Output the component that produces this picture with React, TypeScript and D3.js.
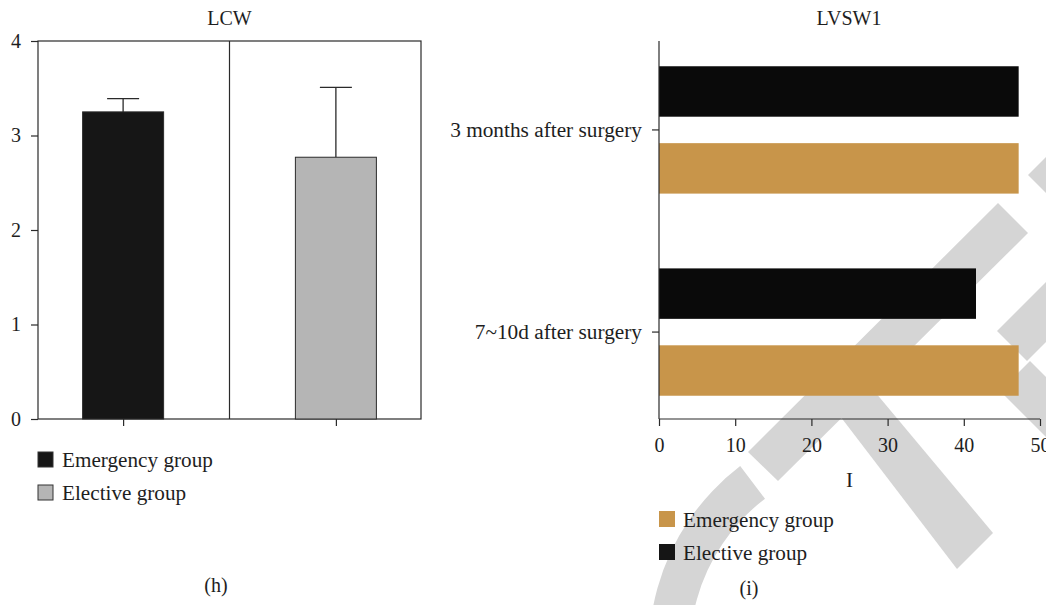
import { useRef, useEffect } from "react";
import * as d3 from "d3";

// LCW panel (h)
const lcwGroups = ["Emergency group", "Elective group"];
const lcwMeans = [3.25, 2.77];
const lcwErrors = [0.14, 0.74];
const lcwColors = ["#161616", "#b5b5b5"];
const lcwTicks = [0, 1, 2, 3, 4];

// LVSW1 panel (i)
const lvswCategories = ["3 months after surgery", "7~10d after surgery"];
const lvswSeries = ["Elective group", "Emergency group"];
const lvswElective = [47.2, 41.6];
const lvswEmergency = [47.2, 47.2];
const lvswColors = ["#0a0a0a", "#c8954a"];
const lvswTicks = [0, 10, 20, 30, 40, 50];
const lvswLegend = ["Emergency group", "Elective group"];
const lvswLegendColors = ["#c8954a", "#151515"];

const W = 1046;
const H = 605;
const FONT = "'Liberation Serif', 'Times New Roman', serif";
const INK = "#1e1e1e";
const LINE = "#2a2a2a";

export default function App() {
  const svgRef = useRef<SVGSVGElement>(null);

  useEffect(() => {
    if (!svgRef.current) return;
    const svg = d3.select(svgRef.current);
    svg.selectAll("*").remove();

    // faint publisher watermark behind everything
    const wm = svg.append("g").attr("fill", "#d5d5d5");
    wm.append("path")
      .attr("transform", "translate(880,650)")
      .attr("d", d3.arc()({ innerRadius: 190, outerRadius: 231, startAngle: -1.95, endAngle: -0.65 } as any));
    const polys = [
      [[998, 203], [1028, 233], [778, 481], [748, 452]],
      [[870, 386], [840, 416], [957, 569], [993, 533]],
      [[997, 331], [1027, 361], [1046, 342], [1046, 282]],
      [[1000, 391], [1030, 361], [1046, 377], [1046, 437]],
      [[1028, 175], [1046, 157], [1046, 193]],
    ];
    polys.forEach(p => wm.append("polygon").attr("points", p.map(q => q.join(",")).join(" ")));

    // ---------- LCW ----------
    const L = { left: 38, right: 421, top: 41, bottom: 419 };
    const xL = d3.scalePoint<string>().domain(lcwGroups).range([L.left, L.right]).padding(0.4);
    const yL = d3.scaleLinear().domain([0, 4]).range([L.bottom, L.top]);
    const barW = 81;
    const gL = svg.append("g");

    gL.append("text")
      .attr("x", (L.left + L.right) / 2).attr("y", 25)
      .attr("text-anchor", "middle").attr("font-size", 20).attr("fill", INK)
      .text("LCW");

    // frame + divider
    gL.append("rect")
      .attr("x", L.left).attr("y", L.top)
      .attr("width", L.right - L.left).attr("height", L.bottom - L.top)
      .attr("fill", "none").attr("stroke", LINE).attr("stroke-width", 1.2);
    const mid = (xL(lcwGroups[0])! + xL(lcwGroups[1])!) / 2;
    gL.append("line")
      .attr("x1", mid).attr("x2", mid).attr("y1", L.top).attr("y2", L.bottom)
      .attr("stroke", LINE).attr("stroke-width", 1.2);

    const axL = gL.append("g")
      .attr("transform", `translate(${L.left},0)`)
      .call(d3.axisLeft(yL).tickValues(lcwTicks).tickSize(7).tickPadding(10).tickFormat(d3.format("d")));
    axL.select(".domain").remove();
    axL.selectAll("line").attr("stroke", LINE).attr("stroke-width", 1.2);
    axL.selectAll("text").attr("font-family", FONT).attr("font-size", 20).attr("fill", INK);

    const axB = gL.append("g")
      .attr("transform", `translate(0,${L.bottom})`)
      .call(d3.axisBottom(xL).tickSize(7).tickFormat(() => ""));
    axB.select(".domain").remove();
    axB.selectAll("line").attr("stroke", LINE).attr("stroke-width", 1.2);

    lcwGroups.forEach((g, i) => {
      const cx = xL(g)!;
      const top = yL(lcwMeans[i]);
      const errTop = yL(lcwMeans[i] + lcwErrors[i]);
      gL.append("line")
        .attr("x1", cx).attr("x2", cx).attr("y1", top).attr("y2", errTop)
        .attr("stroke", LINE).attr("stroke-width", 1.3);
      gL.append("line")
        .attr("x1", cx - 16).attr("x2", cx + 16).attr("y1", errTop).attr("y2", errTop)
        .attr("stroke", LINE).attr("stroke-width", 1.3);
      gL.append("rect")
        .attr("x", cx - barW / 2).attr("y", top)
        .attr("width", barW).attr("height", L.bottom - top)
        .attr("fill", lcwColors[i]).attr("stroke", "#2b2b2b").attr("stroke-width", 1);
    });

    // legend (h)
    lcwGroups.forEach((g, i) => {
      const y = 467 + i * 33;
      gL.append("rect")
        .attr("x", 38).attr("y", y - 15).attr("width", 15).attr("height", 15)
        .attr("fill", lcwColors[i]).attr("stroke", "#333").attr("stroke-width", 1);
      gL.append("text")
        .attr("x", 62).attr("y", y)
        .attr("font-size", 21.2).attr("fill", INK)
        .text(g);
    });
    gL.append("text")
      .attr("x", 216).attr("y", 592).attr("text-anchor", "middle")
      .attr("font-size", 20).attr("fill", INK).text("(h)");

    // ---------- LVSW1 ----------
    const R = { left: 659, right: 1040, top: 41, bottom: 419 };
    const xR = d3.scaleLinear().domain([0, 50]).range([R.left, R.right]);
    const yR = d3.scaleBand<string>().domain(lvswCategories).range([42, 420])
      .paddingInner(0.37).paddingOuter(0.12);
    const ySub = d3.scaleBand<string>().domain(lvswSeries).range([0, yR.bandwidth()])
      .paddingInner(0.344);
    const gR = svg.append("g");

    gR.append("text")
      .attr("x", 849).attr("y", 25)
      .attr("text-anchor", "middle").attr("font-size", 20).attr("fill", INK)
      .text("LVSW1");

    const values = [lvswElective, lvswEmergency];
    lvswCategories.forEach((c, ci) => {
      lvswSeries.forEach((s, si) => {
        gR.append("rect")
          .attr("x", xR(0)).attr("y", yR(c)! + ySub(s)!)
          .attr("width", xR(values[si][ci]) - xR(0)).attr("height", ySub.bandwidth())
          .attr("fill", lvswColors[si]);
      });
    });

    const axX = gR.append("g")
      .attr("transform", `translate(0,${R.bottom})`)
      .call(d3.axisBottom(xR).tickValues(lvswTicks).tickSize(7).tickPadding(12).tickFormat(d3.format("d")));
    axX.select(".domain").attr("stroke", LINE).attr("stroke-width", 1.2).attr("d", `M${R.left},0H${R.right}`);
    axX.selectAll("line").attr("stroke", LINE).attr("stroke-width", 1.2);
    axX.selectAll("text").attr("font-family", FONT).attr("font-size", 20).attr("fill", INK);

    const axY = gR.append("g")
      .attr("transform", `translate(${R.left},0)`)
      .call(d3.axisLeft(yR).tickSize(7).tickPadding(10));
    axY.select(".domain").attr("stroke", LINE).attr("stroke-width", 1.2).attr("d", `M0,${R.top}V${R.bottom}`);
    axY.selectAll("line").attr("stroke", LINE).attr("stroke-width", 1.2);
    axY.selectAll("text").attr("font-family", FONT).attr("font-size", 21.3).attr("fill", INK);

    gR.append("text")
      .attr("x", (R.left + R.right) / 2).attr("y", 487)
      .attr("text-anchor", "middle").attr("font-size", 21).attr("fill", INK).text("I");

    lvswLegend.forEach((g, i) => {
      const y = 527 + i * 33;
      gR.append("rect")
        .attr("x", 659).attr("y", y - 16).attr("width", 16).attr("height", 16)
        .attr("fill", lvswLegendColors[i]);
      gR.append("text")
        .attr("x", 683).attr("y", y)
        .attr("font-size", 21.2).attr("fill", INK)
        .text(g);
    });
    gR.append("text")
      .attr("x", 749).attr("y", 595).attr("text-anchor", "middle")
      .attr("font-size", 20).attr("fill", INK).text("(i)");
  }, []);

  return (
    <div style={{ position: "absolute", left: 0, top: 0, background: "#fff" }}>
      <svg ref={svgRef} width={W} height={H} fontFamily={FONT} style={{ display: "block" }} />
    </div>
  );
}
